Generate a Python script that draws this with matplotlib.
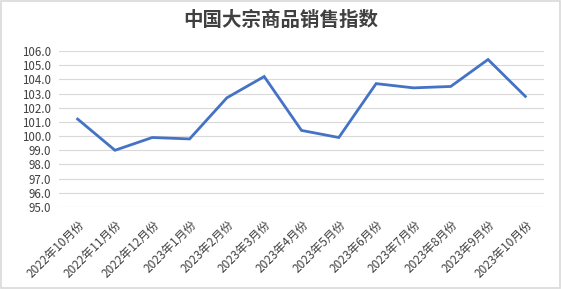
import matplotlib
matplotlib.use("Agg")
import matplotlib.pyplot as plt
from matplotlib.transforms import ScaledTranslation
from matplotlib.patches import Rectangle

plt.rcParams['font.family'] = ['Noto Sans CJK SC', 'DejaVu Sans']

categories = ["2022年10月份", "2022年11月份", "2022年12月份", "2023年1月份", "2023年2月份",
              "2023年3月份", "2023年4月份", "2023年5月份", "2023年6月份", "2023年7月份",
              "2023年8月份", "2023年9月份", "2023年10月份"]
values = [101.2, 99.0, 99.9, 99.8, 102.7, 104.2, 100.4, 99.9, 103.7, 103.4, 103.5, 105.4, 102.8]
yticks = [95.0, 96.0, 97.0, 98.0, 99.0, 100.0, 101.0, 102.0, 103.0, 104.0, 105.0, 106.0]
title = "中国大宗商品销售指数"

fig = plt.figure(figsize=(5.61, 2.89), dpi=100)
ax = fig.add_axes([59/561, 1 - 207/289, (544-59)/561, (207-51)/289])

x = list(range(len(categories)))
ax.plot(x, values, color='#4472C4', linewidth=2.0, solid_joinstyle='miter')
ax.set_xlim(-0.5, len(categories) - 0.5)
ax.set_ylim(95, 106)
ax.set_yticks(yticks)
ax.set_yticklabels([f"{v:.1f}" for v in yticks], fontsize=8.3, color='#404040')
ax.set_xticks(x)
ax.set_xticklabels(categories, fontsize=8.5, color='#404040', rotation=45, ha='right',
                   rotation_mode='anchor')
offset = ScaledTranslation(10/100, 0, fig.dpi_scale_trans)
for lbl in ax.get_xticklabels():
    lbl.set_transform(lbl.get_transform() + offset)
ax.tick_params(axis='y', length=0, pad=6)
ax.tick_params(axis='x', length=0, pad=8)
ax.grid(axis='y', color='#D9D9D9', linewidth=0.8)
ax.set_axisbelow(True)
for s in ax.spines.values():
    s.set_visible(False)

fig.text(0.5, 1 - 20/289, title, ha='center', va='center', fontsize=14,
         color='#404040', fontweight='bold')
fig.patches.append(Rectangle((0.002, 0.003), 0.996, 0.994, transform=fig.transFigure,
                             fill=False, edgecolor='#D9D9D9', linewidth=1.2))
fig.savefig("out.png", dpi=100)
